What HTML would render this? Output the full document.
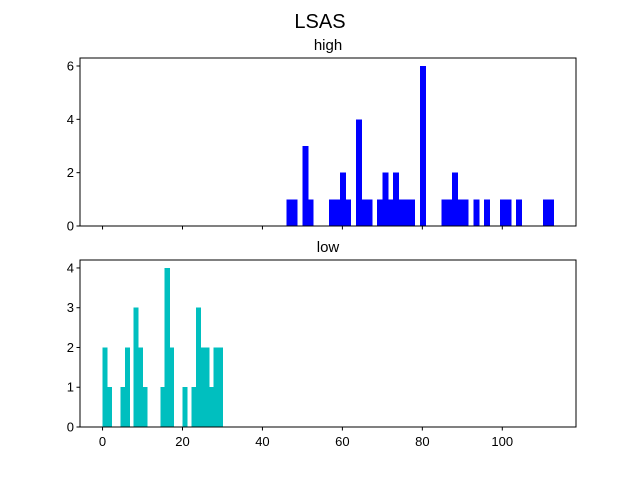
<!DOCTYPE html>
<html><head><meta charset="utf-8"><style>body{margin:0;background:#fff}svg{display:block;font-family:"Liberation Sans","DejaVu Sans",sans-serif}</style></head>
<body>
<svg id="c" width="640" height="480"></svg>
<script>
const highMin = 46.0, highMax = 112.8;
const highCounts = [1,1,0,3,1,0,0,0,1,1,2,1,0,4,1,1,0,1,2,1,2,1,1,1,0,6,0,0,0,1,1,2,1,1,0,1,0,1,0,0,1,1,0,1,0,0,0,0,1,1];
const lowMin = 0, lowMax = 30;
const lowCounts = [2,1,0,0,1,2,0,3,2,1,0,0,0,1,4,2,0,0,1,0,1,3,2,2,1,2,2];
const xTicks = [0,20,40,60,80,100];
const highYTicks = [0,2,4,6];
const lowYTicks = [0,1,2,3,4];
const NS='http://www.w3.org/2000/svg', svg=document.getElementById('c');
const L=80,R=576,xmin=-5.64,xmax=118.44;
const X=v=>L+(v-xmin)/(xmax-xmin)*(R-L);
function mk(t,a,txt){const e=document.createElementNS(NS,t);for(const k in a)e.setAttribute(k,a[k]);if(txt!=null)e.textContent=txt;svg.appendChild(e);return e;}
const title=mk('text',{x:320,y:28,'font-size':20,'text-anchor':'middle'},'LSAS');


function panel(name,top,bot,ymax,counts,mn,mx,color,yt,label,showX){
  const Y=v=>bot-v/ymax*(bot-top);
  const w=(mx-mn)/counts.length;
  counts.forEach((c,i)=>{if(!c)return;
    const x0=X(mn+i*w),x1=X(mn+(i+1)*w);
    const r=mk('rect',{x:x0,y:Y(c),width:x1-x0+0.6,height:Y(0)-Y(c),fill:color,'shape-rendering':'crispEdges'});
    
    
  });
  const f=mk('rect',{x:L,y:top,width:R-L,height:bot-top,fill:'none',stroke:'#000','stroke-width':1});
  
  
  yt.forEach(v=>{const y=Y(v);
    mk('line',{x1:L-3.5,x2:L,y1:y,y2:y,stroke:'#000'});
    const t=mk('text',{x:L-6,y:y+4.5,'font-size':13,'text-anchor':'end'},v);
    
    
  });
  xTicks.forEach(v=>{const x=X(v);
    mk('line',{x1:x,x2:x,y1:bot,y2:bot+3.5,stroke:'#000'});
    if(showX){const t=mk('text',{x:x,y:bot+19,'font-size':13,'text-anchor':'middle'},v);
      
      }
  });
  const t=mk('text',{x:(L+R)/2,y:top-8,'font-size':15,'text-anchor':'middle'},label);
  
  
}
panel('high',58,226,6.3,highCounts,highMin,highMax,'#0000ff',highYTicks,'high',false);
panel('low',260,427,4.2,lowCounts,lowMin,lowMax,'#00bfbf',lowYTicks,'low',true);
</script>
</body></html>
